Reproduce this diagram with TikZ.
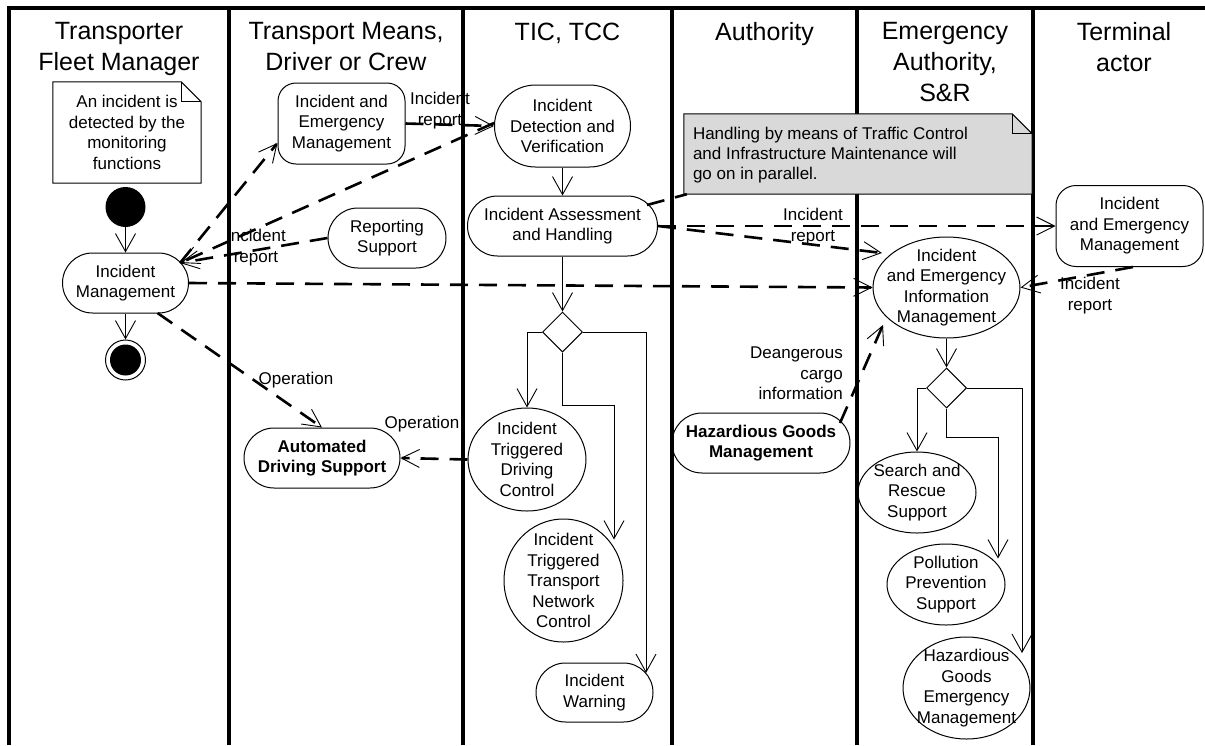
\documentclass[tikz,border=0pt]{standalone}
\usepackage{fontspec}
\setmainfont{Liberation Sans}
\usetikzlibrary{arrows.meta,shapes.geometric,calc}

\newcommand\hdfont{\fontsize{25}{31}\selectfont}
\newcommand\ndfont{\fontsize{17}{20.5}\selectfont}

\tikzset{
  lane/.style={line width=3.2pt},
  hdr/.style={anchor=north, inner sep=0pt, align=center, font=\hdfont},
  act/.style={draw, line width=1pt, inner sep=0pt, align=center, font=\ndfont},
  ell/.style={draw, ellipse, line width=1pt, inner sep=0pt},
  lbl/.style={inner sep=0pt, align=center, font=\ndfont},
  decision/.style={draw, diamond, line width=1pt, inner sep=0pt, minimum width=40pt, minimum height=40pt},
  flow/.style={line width=0.9pt, -{Straight Barb[length=18pt,width=20pt,line width=0.9pt]}},
  obj/.style={line width=2.6pt, dash pattern=on 18pt off 11pt,
              -{Straight Barb[length=18pt,width=18pt,line width=0.9pt]}},
  notelink/.style={line width=2.6pt, dash pattern=on 18pt off 11pt},
  noteframe/.style={line width=1pt}
}

\begin{document}
\begin{tikzpicture}[x=1pt,y=-1pt]
\useasboundingbox (0,0) rectangle (1205,745);

% swimlane frame
\draw[lane] (9,745) -- (9,8) -- (1205,8);
\foreach \x in {229,463,672,857,1033} \draw[lane] (\x,8) -- (\x,745);

% lane headers
\node[hdr] (h1) at (119,22.5) {Transporter\\Fleet Manager};
\node[hdr] (h2) at (346,22.5) {Transport Means,\\Driver or Crew};
\node[hdr] (h3) at (567.5,22.5) {TIC, TCC};
\node[hdr] (h4) at (764.5,22.5) {Authority};
\node[hdr] (h5) at (945,22.5) {Emergency\\Authority,\\S\&R};
\node[hdr] (h6) at (1124,22.5) {Terminal\\actor};

% note in the fleet manager lane
\node[lbl, minimum width=148pt, minimum height=101pt] (note1) at (127,132.5)
  {An incident is\\detected by the\\monitoring\\functions};
\draw[noteframe] (note1.south west) -- (note1.north west) -- ([xshift=-20pt]note1.north east)
  -- ([yshift=-20pt]note1.north east) -- (note1.south east) -- cycle;
\draw[noteframe] ([xshift=-20pt]note1.north east) -- ([xshift=-20pt,yshift=-20pt]note1.north east)
  -- ([yshift=-20pt]note1.north east);

% grey note about parallel handling
\node[minimum width=348pt, minimum height=80pt, inner sep=0pt] (note2) at (858,154) {};
\filldraw[noteframe, fill=black!15] (note2.south west) -- (note2.north west) -- ([xshift=-20pt]note2.north east)
  -- ([yshift=-20pt]note2.north east) -- (note2.south east) -- cycle;
\draw[noteframe] ([xshift=-20pt]note2.north east) -- ([xshift=-20pt,yshift=-20pt]note2.north east)
  -- ([yshift=-20pt]note2.north east);
\node[lbl, anchor=north west, align=left, font=\fontsize{17}{20}\selectfont] (note2txt)
  at ([xshift=9pt,yshift=-13pt]note2.north west)
  {Handling by means of Traffic Control\\and Infrastructure Maintenance will\\go on in parallel.};

% fleet manager lane
\node[circle, fill, minimum size=40pt, inner sep=0pt] (init) at (125.5,207) {};
\node[act, rounded corners=30pt, minimum width=126pt, minimum height=60pt] (im) at (125.5,283) {Incident\\Management};
\node[circle, draw, line width=1pt, minimum size=40pt, inner sep=0pt] (fin) at (125.5,360) {};
\node[circle, fill, minimum size=31pt, inner sep=0pt] (fincore) at (fin.center) {};

% transport means lane
\node[act, rounded corners=18pt, minimum width=127pt, minimum height=81pt] (iemtm) at (341.5,123.5) {Incident and\\Emergency\\Management};
\node[act, rounded corners=30pt, minimum width=118pt, minimum height=60pt] (rs) at (387,238) {Reporting\\Support};
\node[act, rounded corners=30pt, minimum width=156pt, minimum height=60pt, font=\ndfont\bfseries] (ads) at (322,458) {Automated\\Driving Support};

% TIC, TCC lane
\node[act, rounded corners=41pt, minimum width=136pt, minimum height=82pt] (idv) at (562.5,126) {Incident\\Detection and\\Verification};
\node[act, rounded corners=30pt, minimum width=190pt, minimum height=60pt] (iah) at (562.5,226) {Incident Assessment\\and Handling};
\node[decision] (d1) at (562.5,332) {};
\node[ell, minimum width=118pt, minimum height=103pt, label={[lbl]center:Incident\\Triggered\\Driving\\Control}] (itdc) at (527,459.5) {};
\node[ell, minimum width=119pt, minimum height=123pt, label={[lbl]center:Incident\\Triggered\\Transport\\Network\\Control}] (ittnc) at (563.5,580.5) {};
\node[act, rounded corners=29.5pt, minimum width=117pt, minimum height=59pt] (iw) at (594.5,692.5) {Incident\\Warning};

% authority lane
\node[act, rounded corners=30pt, minimum width=178pt, minimum height=60pt, font=\ndfont\bfseries] (hgm) at (761,443) {Hazardious Goods\\Management};

% emergency authority lane
\node[ell, minimum width=147pt, minimum height=101pt, label={[lbl]center:Incident\\and Emergency\\Information\\Management}] (ieim) at (946.5,287.5) {};
\node[decision] (d2) at (946.5,388) {};
\node[ell, minimum width=118pt, minimum height=81pt, label={[lbl]center:Search and\\Rescue\\Support}] (sar) at (917,492.5) {};
\node[ell, minimum width=118pt, minimum height=81pt, label={[lbl]center:Pollution\\Prevention\\Support}] (pps) at (946,584.5) {};
\node[ell, minimum width=127pt, minimum height=102pt, label={[lbl]center:Hazardious\\Goods\\Emergency\\Management}] (hgem) at (966.5,688) {};

% terminal actor lane
\node[act, rounded corners=20pt, minimum width=147pt, minimum height=81pt] (tiem) at (1129.5,226) {Incident\\and Emergency\\Management};

% control flows
\draw[flow] (init) -- (im);
\draw[flow] (im) -- (fin);
\draw[flow] (idv) -- (iah);
\draw[flow] (iah) -- (d1);
\draw[flow] (d1.west) -| (itdc.north);
\draw[flow] (d1.south) -- ++(0,53) -| ($(ittnc.center)+(50.5,-41)$);
\draw[flow] (d1.east) -| ($(iw.center)+(51.5,-19.5)$);
\draw[flow] (ieim) -- (d2);
\draw[flow] (d2.west) -| (sar.north);
\draw[flow] (d2.south) -- ++(0,29) -| ($(pps.center)+(52,-26)$);
\draw[flow] (d2.east) -| ($(hgem.center)+(55.5,-35)$);

% object flows
\draw[obj] ($(im.center)+(54.5,-20)$) -- ($(iemtm.west)+(0,19.5)$);
\draw[obj] ($(idv.west)+(0,-3)$) -- ($(im.center)+(54.5,-20)$);
\draw[obj] (rs.west) -- ($(im.center)+(54.5,-20)$);
\draw[obj] (iemtm.east) -- (idv.west);
\draw[obj] (im.east) -- (ieim.west);
\draw[obj] (iah.east) -- (tiem.west);
\draw[obj] (iah.east) -- ($(ieim.center)+(-64.5,-34.5)$);
\draw[obj] ($(tiem.south)+(3.5,0)$) -- (ieim.east);
\draw[obj] (itdc.west) -- (ads.east);
\draw[obj] ($(im.center)+(32,30)$) -- (ads.north);
\draw[obj] ($(hgm.center)+(79,-20)$) -- ($(ieim.center)+(-63.5,37.5)$);
\draw[notelink] ($(iah.center)+(84.5,-21)$) -- ([xshift=3pt]note2.south west);

% flow labels
\node[lbl, anchor=north] (lb1) at (440,92) {Incident\\report};
\node[lbl, anchor=north] (lb2) at (256,229) {Incident\\report};
\node[lbl, anchor=north] (lb3) at (813,208) {Incident\\report};
\node[lbl, anchor=north] (lb4) at (1090,277) {Incident\\report};
\node[lbl, anchor=north] (lb5) at (296,372) {Operation};
\node[lbl, anchor=north] (lb6) at (422,416) {Operation};
\node[lbl, anchor=north east, align=right] (lb7) at (843,347) {Deangerous\\cargo\\information};
\end{tikzpicture}
\end{document}
